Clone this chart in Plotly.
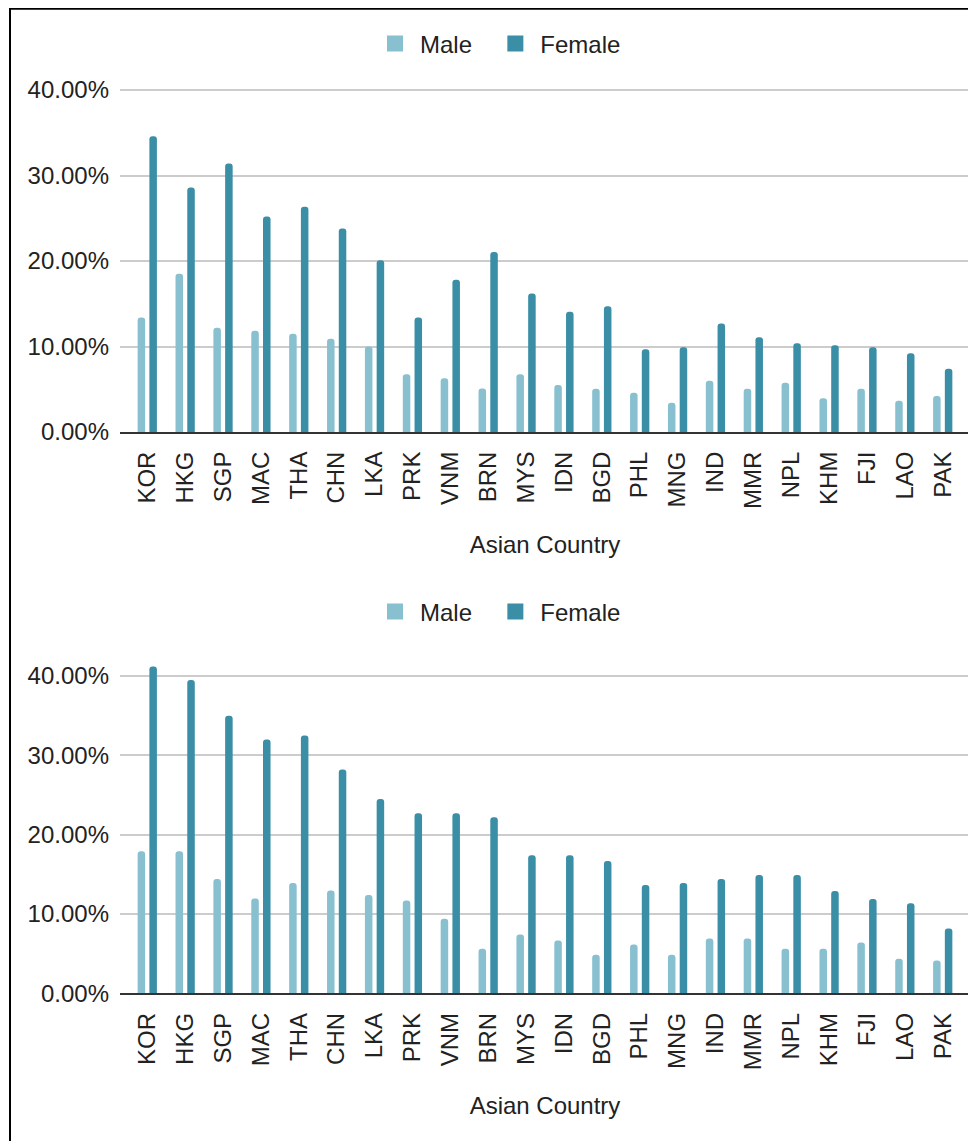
import plotly.graph_objects as go

countries = ["KOR", "HKG", "SGP", "MAC", "THA", "CHN", "LKA", "PRK", "VNM", "BRN", "MYS",
             "IDN", "BGD", "PHL", "MNG", "IND", "MMR", "NPL", "KHM", "FJI", "LAO", "PAK"]

male_top = [13.4, 18.5, 12.2, 11.85, 11.5, 10.9, 10.0, 6.75, 6.3, 5.1, 6.75,
            5.5, 5.07, 4.6, 3.43, 6.0, 5.07, 5.77, 3.94, 5.07, 3.66, 4.2]
female_top = [34.6, 28.6, 31.4, 25.2, 26.35, 23.8, 20.1, 13.4, 17.8, 21.05, 16.2,
              14.07, 14.7, 9.67, 9.9, 12.7, 11.07, 10.37, 10.14, 9.9, 9.2, 7.4]

male_bottom = [17.9, 17.9, 14.4, 11.95, 13.9, 12.95, 12.4, 11.7, 9.4, 5.6, 7.4,
               6.64, 4.87, 6.14, 4.87, 6.9, 6.9, 5.63, 5.63, 6.39, 4.37, 4.12]
female_bottom = [41.2, 39.5, 35.0, 32.0, 32.5, 28.2, 24.5, 22.7, 22.7, 22.2, 17.4,
                 17.4, 16.67, 13.64, 13.9, 14.4, 14.9, 14.9, 12.9, 11.9, 11.36, 8.16]

y_ticks = [0, 0.1, 0.2, 0.3, 0.4]
series_names = ["Male", "Female"]
x_title = "Asian Country"

MALE_C = "#88c0d0"
FEMALE_C = "#3a8ea6"
FONT = "Liberation Sans, Arial, sans-serif"
TXT = "#222222"
FS = 24
OFF = 8  # page body margin
W, H = 976 - OFF, 1141 - OFF
ML, MR = 112, 6
PW = W - ML - MR
PAD = "\u00a0\u00a0"  # spacing after first legend entry


def py(ref_px):
    return 1 - (ref_px - OFF) / H


def pxx(ref_px):
    return (ref_px - OFF - ML) / PW


fig = go.Figure()

panels = [
    (male_top, female_top, "x", "y", "legend"),
    (male_bottom, female_bottom, "x2", "y2", "legend2"),
]
for m, f, xa, ya, lg in panels:
    for vals, name, col in [(m, series_names[0], MALE_C), (f, series_names[1], FEMALE_C)]:
        fig.add_trace(go.Bar(
            x=countries, y=[v / 100 for v in vals], name=name,
            marker=dict(color=col, line=dict(width=0), cornerradius=4),
            xaxis=xa, yaxis=ya, showlegend=False,
            hovertemplate="%{x}: %{y:.2%}<extra>" + name + "</extra>",
        ))
    for name, col in [(series_names[0] + PAD, MALE_C), (series_names[1], FEMALE_C)]:
        fig.add_trace(go.Scatter(
            x=[None], y=[None], mode="markers", name=name,
            marker=dict(symbol="square", size=22, color=col),
            xaxis=xa, yaxis=ya, legend=lg, showlegend=True, hoverinfo="skip",
        ))

xaxis_common = dict(
    type="category", categoryorder="array", categoryarray=countries,
    range=[-0.72, 21.72], tickangle=-90, showgrid=False,
    showline=True, linecolor="#333333", linewidth=2,
    ticks="", ticklabelstandoff=8,
    tickfont=dict(family=FONT, size=FS, color=TXT),
    title=dict(text=x_title, font=dict(family=FONT, size=FS, color=TXT), standoff=28),
    automargin=False, zeroline=False,
)
yaxis_common = dict(
    tickvals=y_ticks, tickformat=".2%", showgrid=True, gridcolor="#cccccc", gridwidth=1.5,
    zeroline=False, ticks="", ticklabelstandoff=10,
    tickfont=dict(family=FONT, size=FS, color=TXT), automargin=False,
)

legend_common = dict(orientation="h", xref="paper", yref="paper", x=pxx(498),
                     xanchor="center", yanchor="middle",
                     font=dict(family=FONT, size=FS, color=TXT),
                     itemwidth=40, bgcolor="rgba(0,0,0,0)")

TOP_PX_PER_UNIT = (432 - 90) / 0.4

fig.update_layout(
    width=W, height=H,
    margin=dict(l=ML, r=MR, t=0, b=0, autoexpand=False),
    paper_bgcolor="white", plot_bgcolor="white",
    barmode="group", bargap=0.38, bargroupgap=0.36,
    font=dict(family=FONT, size=FS, color=TXT),
    xaxis=dict(xaxis_common, anchor="y", domain=[0, 1]),
    yaxis=dict(yaxis_common, anchor="x", domain=[py(432), py(432 - 0.41 * TOP_PX_PER_UNIT)],
               range=[0, 0.41]),
    xaxis2=dict(xaxis_common, anchor="y2", domain=[0, 1]),
    yaxis2=dict(yaxis_common, anchor="x2", domain=[py(993.3), py(660.1)], range=[0, 0.42]),
    legend=dict(legend_common, y=py(44)),
    legend2=dict(legend_common, y=py(612)),
    showlegend=True,
    shapes=[dict(type="rect", xref="paper", yref="paper",
                 x0=pxx(10), x1=pxx(1000), y0=-0.05, y1=py(8.8),
                 line=dict(color="black", width=2), fillcolor="rgba(0,0,0,0)", layer="above")],
)

fig.write_html("out.html")
